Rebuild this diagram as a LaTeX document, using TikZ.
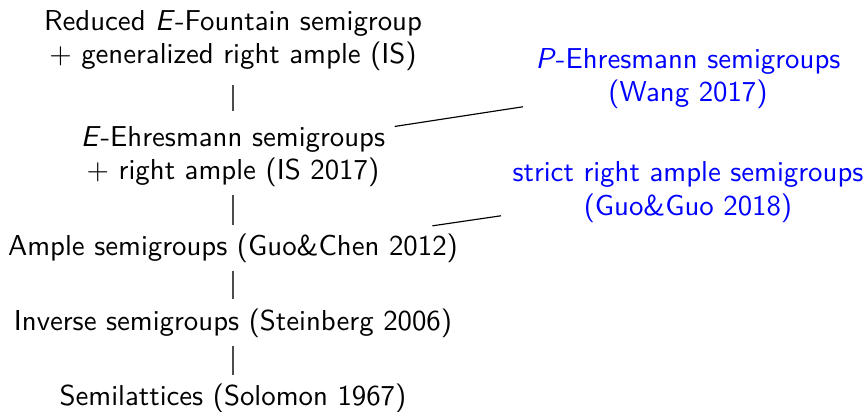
\documentclass[tikz,border=0pt]{standalone}
\newdimen\pxu \pxu=0.3472pt
\begin{document}
\begin{tikzpicture}[x=\pxu, y=-\pxu,
  every node/.style={inner sep=0pt, align=center, font=\sffamily\fontsize{10}{11.8}\selectfont},
  refnode/.style={text=blue},
  vlink/.style={draw=black!70, line width=0.55pt},
  dlink/.style={draw=black, line width=0.4pt}]
\useasboundingbox (0,0) rectangle (866,412);
\node[anchor=base] (n1) at (233,64) {Reduced \textit{E}-Fountain semigroup\\$+$ generalized right ample (IS)};
\node[anchor=base] (n2) at (233,180) {\textit{E}-Ehresmann semigroups\\$+$ right ample (IS 2017)};
\node[anchor=base] (n3) at (233,255) {Ample semigroups (Guo\&Chen 2012)};
\node[anchor=base] (n4) at (233,330) {Inverse semigroups (Steinberg 2006)};
\node[anchor=base] (n5) at (233,405) {Semilattices (Solomon 1967)};
\node[refnode, anchor=base] (p) at (688,102) {\textit{P}-Ehresmann semigroups\\(Wang 2017)};
\node[refnode, anchor=base] (s) at (688,215) {strict right ample semigroups\\(Guo\&Guo 2018)};
\draw[vlink, shorten <=13\pxu, shorten >=14\pxu] (n1.south) -- (n2.north);
\draw[vlink, shorten <=7\pxu, shorten >=8\pxu] (n2.south) -- (n3.north);
\draw[vlink, shorten <=8\pxu, shorten >=9\pxu] (n3.south) -- (n4.north);
\draw[vlink, shorten <=8\pxu, shorten >=8\pxu] (n4.south) -- (n5.north);
\draw[dlink] ([xshift=9\pxu, yshift=-1\pxu]n2.north east) -- ([xshift=-12\pxu, yshift=3\pxu]p.south west);
\draw[dlink] ([xshift=-26\pxu, yshift=7\pxu]n3.north east) -- ([xshift=-11\pxu, yshift=7\pxu]s.south west);
\end{tikzpicture}
\end{document}
